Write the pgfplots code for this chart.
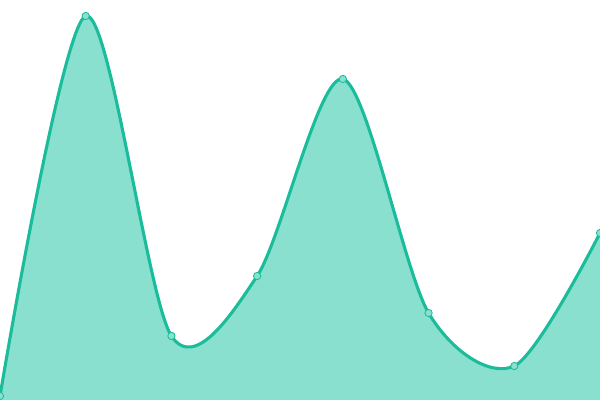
\documentclass[border=0pt]{standalone}
\usepackage{pgfplots}
\pgfplotsset{compat=1.18}
\definecolor{lineC}{HTML}{1ABC9C}
\definecolor{fillC}{HTML}{89E0CF}
\begin{document}
\begin{tikzpicture}
\begin{axis}[
    width=15cm, height=10cm,
    scale only axis,
    hide axis,
    xmin=0, xmax=7,
    ymin=0, ymax=400,
    clip=true,
]
\addplot[draw=none, fill=fillC, smooth, tension=0.5] coordinates {
    (0,4) (1,384) (2,64) (3,124) (4,321) (5,87) (6,34) (7,167)
} \closedcycle;
\addplot[lineC, line width=2.2pt, smooth, tension=0.5,
    mark=*, mark size=2.6pt,
    mark options={fill=fillC, draw=lineC, line width=0.6pt, solid}] coordinates {
    (0,4) (1,384) (2,64) (3,124) (4,321) (5,87) (6,34) (7,167)
};
\end{axis}
\pgfresetboundingbox
\path (current axis.south west) rectangle (current axis.north east);
\end{tikzpicture}
\end{document}
